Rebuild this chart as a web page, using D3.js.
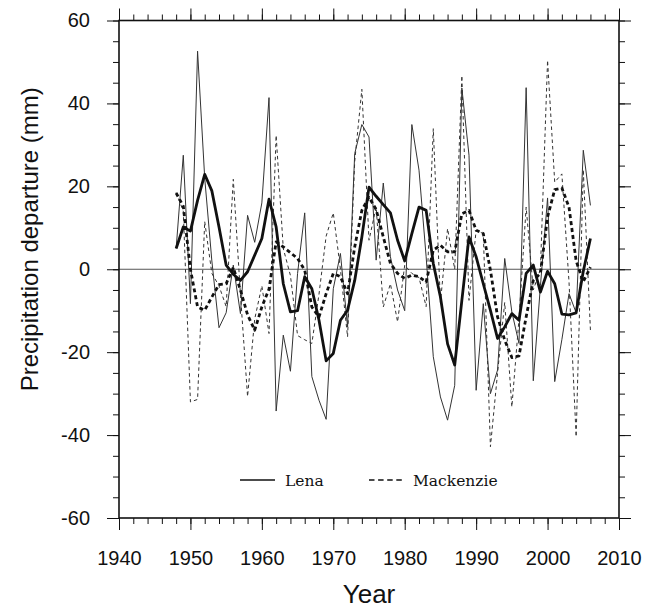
<!DOCTYPE html>
<html>
<head>
<meta charset="utf-8">
<script src="https://cdn.jsdelivr.net/npm/d3@7"></script>
<style>
  body { margin: 0; background: #fff; }
</style>
</head>
<body>
<div id="myChart"></div>
<script>
// years of record
const years = [1948, 1949, 1950, 1951, 1952, 1953, 1954, 1955, 1956, 1957,
  1958, 1959, 1960, 1961, 1962, 1963, 1964, 1965, 1966, 1967,
  1968, 1969, 1970, 1971, 1972, 1973, 1974, 1975, 1976, 1977,
  1978, 1979, 1980, 1981, 1982, 1983, 1984, 1985, 1986, 1987,
  1988, 1989, 1990, 1991, 1992, 1993, 1994, 1995, 1996, 1997,
  1998, 1999, 2000, 2001, 2002, 2003, 2004, 2005, 2006];

// Lena, annual departure (thin solid)
const lenaAnnual = [5.0, 27.5, -8.3, 52.6, 22, 2, -14.1, -10.5, 1.0, -10.7,
  13.0, 6.5, 16, 41.4, -34.2, -15.9, -24.6, -1, 13.6, -25.9,
  -31.6, -36.2, -4.7, 3.8, -13.9, 27.9, 34.9, 31.9, 2.2, 20.8,
  3, -5, -10, 34.9, 23.9, 3, -21.1, -30.8, -36.4, -28,
  43.7, 27.5, -29.2, -8.3, -30, -24.3, 2.6, -10.3, -17.9, 43.8,
  -26.9, -4, 17.2, -27.1, -17, -5.9, -10.5, 28.7, 15.4];

// Lena, smoothed (thick solid)
const lenaSmooth = [5.0, 10.2, 9.2, 16.6, 22.9, 18.9, 10.2, 1.0, -1.2, -2.7,
  -0.6, 3.4, 7.4, 16.9, 10.2, -3.5, -10.3, -10.0, -1.8, -4.7,
  -12.3, -22.1, -20.3, -12.3, -9.9, -2.7, 7.8, 19.8, 17.6, 15.6,
  13.6, 7.0, 2.0, 8.6, 15.0, 14.2, 1.4, -6.7, -18, -23.1,
  -7.5, 7.8, 3.0, -3.5, -9.9, -16.7, -13.9, -10.7, -12.3, -1.0,
  1.0, -5.5, -0.5, -3.5, -10.8, -11.0, -10.5, -0.5, 7.4];

// Mackenzie, annual departure (thin dashed)
const mackAnnual = [18.5, 14, -32, -31.4, 11.5, -1, -4, -9, 21.7, -6,
  -30.7, -12, -4, -15.5, 32.3, 5, -1.5, -16, -17, -17.9,
  -6, 8, 13.6, 0, -16.3, 26, 43.4, 7, 15, -9.1,
  -3.5, -12.7, 1, -1, -2, -9, 33.9, -8, 9.8, 0,
  46.7, -7.5, 9.4, 8.6, -42.8, -25, -8, -33.2, -12, 15,
  -5, 0, 50.4, 21, 23, -3, -40.4, 24, -14.7];

// Mackenzie, smoothed (thick dashed)
const mackSmooth = [18.4, 15.2, 0, -9.1, -9.9, -6.7, -3.7, -3.5, 0.4, -5,
  -11, -14.7, -9.1, -4.8, 6.6, 5.4, 4, 2.6, -0.2, -9.1,
  -11.5, -5.9, -1.0, -1.8, -5.9, 5.4, 14.2, 17.4, 14.4, 7.8,
  1.4, -1, -2.2, -1.4, -1.8, -3.1, 4.6, 5.8, 4.2, 4.2,
  13.4, 14.2, 9.4, 8.6, -0.2, -11.5, -17.1, -21.3, -20.9, -11.5,
  -2.7, -1, 12.6, 19.2, 19.6, 15, 2, -3, 0.5];

const xTicks = [1940, 1950, 1960, 1970, 1980, 1990, 2000, 2010];
const yTicks = [-60, -40, -20, 0, 20, 40, 60];

// set the dimensions and margins of the graph
let margin = {top: 20.5, right: 38, bottom: 92, left: 119},
    width = 657 - margin.left - margin.right,
    height = 610 - margin.top - margin.bottom;

let svg = d3.select("#myChart")
  .append("svg")
    .attr("width", width + margin.left + margin.right)
    .attr("height", height + margin.top + margin.bottom)
  .append("g")
    .attr("transform", `translate(${margin.left}, ${margin.top})`);

const x = d3.scaleLinear().domain([1940, 2010]).range([0, width]);
const y = d3.scaleLinear().domain([-60, 60]).range([height, 0]);

const sans = "'Liberation Sans', Arial, Helvetica, sans-serif";
const serif = "'DejaVu Serif', serif";

// zero reference line
svg.append("line")
  .attr("x1", 0).attr("x2", width)
  .attr("y1", y(0)).attr("y2", y(0))
  .attr("stroke", "#555").attr("stroke-width", 1);

// minor ticks on all four sides
const minorX = d3.range(1940, 2011, 2), minorY = d3.range(-60, 61, 5);
const noLabel = a => a.tickFormat("").tickSizeOuter(0);

svg.append("g").attr("class", "ax").attr("transform", `translate(0,${height})`)
  .call(noLabel(d3.axisBottom(x).tickValues(minorX).tickSize(6)));
svg.append("g").attr("class", "ax")
  .call(noLabel(d3.axisTop(x).tickValues(minorX).tickSize(6)));
svg.append("g").attr("class", "ax")
  .call(noLabel(d3.axisLeft(y).tickValues(minorY).tickSize(6)));
svg.append("g").attr("class", "ax").attr("transform", `translate(${width},0)`)
  .call(noLabel(d3.axisRight(y).tickValues(minorY).tickSize(6)));

// major ticks + labels (plain hyphen for negatives, like the original)
const plain = d => String(d);
svg.append("g").attr("class", "ax").attr("transform", `translate(0,${height})`)
  .call(d3.axisBottom(x).tickValues(xTicks).tickSize(12).tickPadding(21).tickSizeOuter(0).tickFormat(plain));
svg.append("g").attr("class", "ax")
  .call(noLabel(d3.axisTop(x).tickValues(xTicks).tickSize(12)));
svg.append("g").attr("class", "ax")
  .call(d3.axisLeft(y).tickValues(yTicks).tickSize(12).tickPadding(17).tickSizeOuter(0).tickFormat(plain));
svg.append("g").attr("class", "ax").attr("transform", `translate(${width},0)`)
  .call(noLabel(d3.axisRight(y).tickValues(yTicks).tickSize(12)));

svg.selectAll(".ax .domain").remove();
svg.selectAll(".ax line").attr("stroke", "#111").attr("stroke-width", 1);
svg.selectAll(".ax text")
  .style("font-family", sans).style("font-size", "20px").attr("fill", "#111");

// frame
svg.append("rect")
  .attr("width", width).attr("height", height)
  .attr("fill", "none").attr("stroke", "#111").attr("stroke-width", 1.6);

// series
const line = vals => d3.line()
  .x((d, i) => x(years[i]))
  .y(d => y(d))(vals);

const series = [
  {vals: lenaAnnual, w: 1, dash: null, col: "#333"},
  {vals: mackAnnual, w: 1, dash: "3.5,3", col: "#333"},
  {vals: mackSmooth, w: 2.8, dash: "4,3", col: "#111"},
  {vals: lenaSmooth, w: 2.8, dash: null, col: "#111"}
];

svg.selectAll("path.series")
  .data(series)
  .join("path")
    .attr("class", "series")
    .attr("d", d => line(d.vals))
    .attr("fill", "none")
    .attr("stroke", d => d.col)
    .attr("stroke-width", d => d.w)
    .attr("stroke-dasharray", d => d.dash)
    .attr("stroke-linejoin", "round");

// legend
const legend = svg.append("g").attr("transform", "translate(0,459.5)");
legend.append("line").attr("x1", 121).attr("x2", 156).attr("y1", 0).attr("y2", 0)
  .attr("stroke", "#111").attr("stroke-width", 1.3);
legend.append("text").attr("x", 166).attr("y", 5.5).text("Lena")
  .style("font-family", serif).style("font-size", "15.5px").attr("fill", "#111");
legend.append("line").attr("x1", 250).attr("x2", 283).attr("y1", 0).attr("y2", 0)
  .attr("stroke", "#111").attr("stroke-width", 1.3).attr("stroke-dasharray", "5.5,3.6");
legend.append("text").attr("x", 294).attr("y", 5.5).text("Mackenzie")
  .style("font-family", serif).style("font-size", "15.5px").attr("fill", "#111");

// axis titles
svg.append("text")
  .attr("x", width / 2).attr("y", height + 85)
  .attr("text-anchor", "middle")
  .style("font-family", sans).style("font-size", "26px").attr("fill", "#111")
  .text("Year");

svg.append("text")
  .attr("transform", `translate(${38 - margin.left},${height / 2 - 30}) rotate(-90)`)
  .attr("text-anchor", "middle")
  .style("font-family", sans).style("font-size", "24px").attr("fill", "#111")
  .text("Precipitation departure (mm)");
</script>
</body>
</html>
